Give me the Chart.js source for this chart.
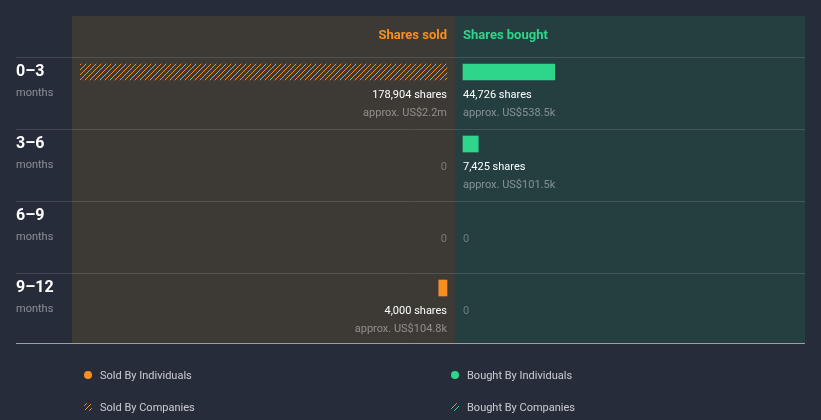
<!DOCTYPE html>
<html>
<head>
<meta charset="utf-8">
<script src="https://cdn.jsdelivr.net/npm/chart.js@4.4.1/dist/chart.umd.min.js"></script>
<style>
    html, body { margin: 0; padding: 0; background: #262c39; }
    #wrap { position: relative; width: 821px; height: 420px; }
</style>
</head>
<body>
<div id="wrap"><canvas id="insider-chart" width="821" height="420"></canvas></div>
<script>
// Rows (months ago)
const periods = ['0–3', '3–6', '6–9', '9–12'];
const periodUnit = 'months';

// Shares per row
const soldByIndividuals = [0, 0, 0, 4000];
const soldByCompanies = [178904, 0, 0, 0];
const boughtByIndividuals = [44726, 7425, 0, 0];
const boughtByCompanies = [0, 0, 0, 0];

// Approximate value in US$
const soldUsd = [2.2e6, 0, 0, 104.8e3];
const boughtUsd = [538.5e3, 101.5e3, 0, 0];

const ORANGE = '#f7901e';
const GREEN = '#2dd68a';
const BG = '#262c39';
const SOLD_PANEL = '#3d3935';
const BOUGHT_PANEL = '#253f40';
const FONT = 'Roboto, "Noto Sans", sans-serif';

// chart area edges (px) - bars live between these
const AREA_L = 80, AREA_R = 805, AREA_T = 36, AREA_B = 324;
const SOLD_END = 447, BOUGHT_START = 463;

function hatch(color, size) {
    const c = document.createElement('canvas');
    c.width = c.height = size;
    const g = c.getContext('2d');
    g.fillStyle = color;
    for (let i = 0; i < size; i++) g.fillRect(size - 1 - i, i, 1, 1);
    return g.createPattern(c, 'repeat');
}

function fmtUsd(v) {
    if (v >= 1e6) return 'US$' + (v / 1e6).toFixed(1) + 'm';
    return 'US$' + (v / 1e3).toFixed(1) + 'k';
}

// empty cells get no bar at all
const bars = arr => arr.map(v => (v === 0 ? null : v));

const soldTotals = periods.map((p, i) => soldByIndividuals[i] + soldByCompanies[i]);
const boughtTotals = periods.map((p, i) => boughtByIndividuals[i] + boughtByCompanies[i]);
const maxShares = Math.max(...soldTotals, ...boughtTotals);

// both sides share the same px-per-share scale
const unitsPerPx = maxShares / (SOLD_END - AREA_L);

const orangeHatch = hatch(ORANGE, 5);
const greenHatch = hatch(GREEN, 5);

const panelsPlugin = {
    id: 'panels',
    beforeDraw(chart) {
        const ctx = chart.ctx;
        const y = chart.scales.y;
        const mid = chart.scales.xs.getPixelForValue(0) + 8;
        const top = 16;
        const rowTop = i => y.getPixelForValue(i) - 15;
        const bottom = y.getPixelForValue(periods.length - 1) + 55;

        ctx.save();
        ctx.fillStyle = BG;
        ctx.fillRect(0, 0, chart.width, chart.height);
        ctx.fillStyle = SOLD_PANEL;
        ctx.fillRect(AREA_L - 8, top, mid - (AREA_L - 8), bottom - top);
        ctx.fillStyle = BOUGHT_PANEL;
        ctx.fillRect(mid, top, AREA_R - mid, bottom - top);

        // header
        ctx.font = 'bold 13px ' + FONT;
        ctx.textBaseline = 'middle';
        ctx.fillStyle = ORANGE;
        ctx.textAlign = 'right';
        ctx.fillText('Shares sold', SOLD_END, 36);
        ctx.fillStyle = GREEN;
        ctx.textAlign = 'left';
        ctx.fillText('Shares bought', BOUGHT_START, 36);

        // row separators
        ctx.strokeStyle = 'rgba(255,255,255,0.12)';
        ctx.lineWidth = 1;
        periods.forEach((p, i) => {
            const ry = Math.round(rowTop(i)) + 0.5;
            ctx.beginPath();
            ctx.moveTo(16, ry);
            ctx.lineTo(AREA_R, ry);
            ctx.stroke();
        });
        ctx.strokeStyle = 'rgba(255,255,255,0.55)';
        ctx.beginPath();
        ctx.moveTo(16, Math.round(bottom) + 0.5);
        ctx.lineTo(AREA_R, Math.round(bottom) + 0.5);
        ctx.stroke();

        // row labels
        periods.forEach((p, i) => {
            const cy = y.getPixelForValue(i);
            ctx.textAlign = 'left';
            ctx.fillStyle = '#ffffff';
            ctx.font = 'bold 16px ' + FONT;
            ctx.fillText(p, 16, cy);
            ctx.fillStyle = 'rgba(255,255,255,0.45)';
            ctx.font = '11px ' + FONT;
            ctx.fillText(periodUnit, 16, cy + 21);
        });
        ctx.restore();
    },
    afterDatasetsDraw(chart) {
        const ctx = chart.ctx;
        const y = chart.scales.y;
        ctx.save();
        ctx.textBaseline = 'middle';
        ctx.font = '11px ' + FONT;

        const side = (totals, usd, x, align) => {
            ctx.textAlign = align;
            totals.forEach((t, i) => {
                const cy = y.getPixelForValue(i);
                if (t === 0) {
                    ctx.fillStyle = 'rgba(255,255,255,0.3)';
                    ctx.fillText('0', x, cy + 23);
                    return;
                }
                ctx.fillStyle = '#ffffff';
                ctx.fillText(t.toLocaleString('en-US') + ' shares', x, cy + 23);
                ctx.fillStyle = 'rgba(255,255,255,0.42)';
                ctx.fillText('approx. ' + fmtUsd(usd[i]), x, cy + 41);
            });
        };
        side(soldTotals, soldUsd, SOLD_END, 'right');
        side(boughtTotals, boughtUsd, BOUGHT_START, 'left');

        // legend, 2 x 2
        const items = chart.data.datasets.map(d => ({ text: d.label, fill: d.backgroundColor }));
        const spots = [[88, 376], [88, 408], [455, 376], [455, 408]];
        items.forEach((it, k) => {
            const [lx, ly] = spots[k];
            ctx.beginPath();
            ctx.arc(lx, ly - 1, 4, 0, Math.PI * 2);
            ctx.fillStyle = it.fill;
            ctx.fill();
            ctx.fillStyle = 'rgba(255,255,255,0.75)';
            ctx.textAlign = 'left';
            ctx.fillText(it.text, lx + 12, ly);
        });
        ctx.restore();
    }
};

new Chart(document.getElementById('insider-chart'), {
    type: 'bar',
    data: {
        labels: periods,
        datasets: [
            { label: 'Sold By Individuals', data: bars(soldByIndividuals), xAxisID: 'xs', stack: 'sold', backgroundColor: ORANGE },
            { label: 'Sold By Companies', data: bars(soldByCompanies), xAxisID: 'xs', stack: 'sold', backgroundColor: orangeHatch },
            { label: 'Bought By Individuals', data: bars(boughtByIndividuals), xAxisID: 'xb', stack: 'bought', backgroundColor: GREEN },
            { label: 'Bought By Companies', data: bars(boughtByCompanies), xAxisID: 'xb', stack: 'bought', backgroundColor: greenHatch }
        ]
    },
    options: {
        indexAxis: 'y',
        responsive: false,
        animation: false,
        datasets: { bar: { barThickness: 16, grouped: false, borderWidth: 0 } },
        layout: { padding: { left: AREA_L, right: 821 - AREA_R, top: AREA_T, bottom: 420 - AREA_B } },
        plugins: { legend: { display: false }, tooltip: { enabled: false } },
        scales: {
            y: { type: 'category', display: false },
            xs: {
                type: 'linear', axis: 'x', display: false, reverse: true, stacked: true,
                min: -(AREA_R - SOLD_END) * unitsPerPx,
                max: maxShares
            },
            xb: {
                type: 'linear', axis: 'x', display: false, stacked: true,
                min: -(BOUGHT_START - AREA_L) * unitsPerPx,
                max: (AREA_R - BOUGHT_START) * unitsPerPx
            }
        }
    },
    plugins: [panelsPlugin]
});
</script>
</body>
</html>
